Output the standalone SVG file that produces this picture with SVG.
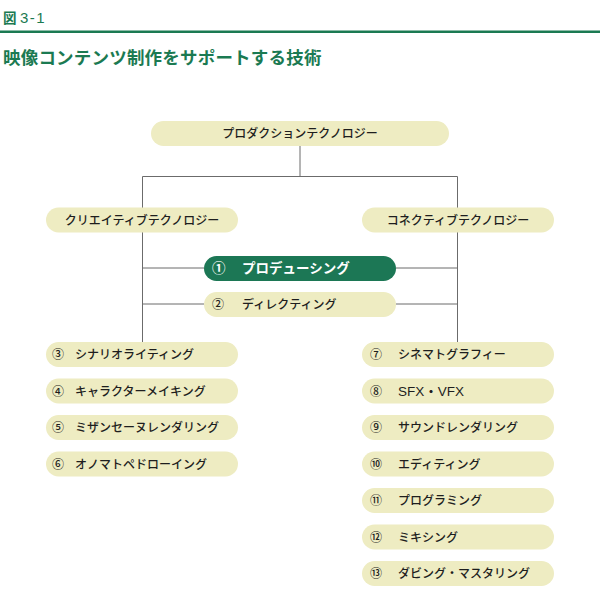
<svg xmlns="http://www.w3.org/2000/svg" width="600" height="598" viewBox="0 0 600 598">
<style>
text{font-family:"Noto Sans CJK JP","Noto Sans",sans-serif;fill:#1e1e1e;font-size:12px;font-weight:500}
.pill{fill:#eeecc2}
.dark{fill:#1c7755}
.c{text-anchor:middle}
.hd{fill:#1b7a52;font-weight:bold}
.ln{stroke:#6b6b6b;stroke-width:1;fill:none}
.w{fill:#fff;font-weight:bold;font-size:13.5px}
.lat{font-family:"Liberation Sans","Noto Sans CJK JP",sans-serif}
</style>
<rect width="600" height="598" fill="#fff"/>
<g id="header">
<text class="hd" x="3" y="22.5" style="font-size:13.5px">図<tspan class="lat" x="20" style="font-size:15px;letter-spacing:1.5px;font-weight:500">3-1</tspan></text>
<rect x="0" y="30.5" width="600" height="2.5" fill="#1b7a52"/>
<text class="hd" x="3" y="64" style="font-size:17.5px;letter-spacing:0.2px">映像コンテンツ制作をサポートする技術</text>
</g>
<g id="connectors">
<path class="ln" d="M300 146V176.5M142.5 176.5H457.5M142.5 176.5V342M457.5 176.5V342M142.5 268H204M396 268H457.5M142.5 304H204M396 304H457.5"/>
</g>
<g id="n-production"><rect class="pill" x="151" y="121" width="298" height="25" rx="12.5"/><text class="c" x="300" y="138">プロダクションテクノロジー</text></g>
<g id="n-creative"><rect class="pill" x="46" y="207.5" width="192" height="25" rx="12.5"/><text class="c" x="142" y="224.5">クリエイティブテクノロジー</text></g>
<g id="n-connective"><rect class="pill" x="362" y="207.5" width="192" height="25" rx="12.5"/><text class="c" x="458" y="224.5">コネクティブテクノロジー</text></g>
<g id="n1"><rect class="dark" x="204" y="256" width="192" height="25" rx="12.5"/><text class="w" x="212" y="273">①</text><text class="w" x="242" y="273">プロデューシング</text></g>
<g id="n2"><rect class="pill" x="204" y="292" width="192" height="25" rx="12.5"/><text x="212" y="309">②</text><text x="242" y="309">ディレクティング</text></g>
<g id="n3"><rect class="pill" x="46" y="342" width="192" height="25" rx="12.5"/><text x="52" y="359">③</text><text x="75" y="359">シナリオライティング</text></g>
<g id="n4"><rect class="pill" x="46" y="378.5" width="192" height="25" rx="12.5"/><text x="52" y="395.5">④</text><text x="75" y="395.5">キャラクターメイキング</text></g>
<g id="n5"><rect class="pill" x="46" y="415" width="192" height="25" rx="12.5"/><text x="52" y="432">⑤</text><text x="75" y="432">ミザンセーヌレンダリング</text></g>
<g id="n6"><rect class="pill" x="46" y="451.5" width="192" height="25" rx="12.5"/><text x="52" y="468.5">⑥</text><text x="75" y="468.5">オノマトペドローイング</text></g>
<g id="n7"><rect class="pill" x="362" y="342" width="192" height="25" rx="12.5"/><text x="370" y="359">⑦</text><text x="398" y="359">シネマトグラフィー</text></g>
<g id="n8"><rect class="pill" x="362" y="378.5" width="192" height="25" rx="12.5"/><text x="370" y="395.5">⑧</text><text class="lat" x="398" y="396" style="font-size:13.5px">SFX・VFX</text></g>
<g id="n9"><rect class="pill" x="362" y="415" width="192" height="25" rx="12.5"/><text x="370" y="432">⑨</text><text x="398" y="432">サウンドレンダリング</text></g>
<g id="n10"><rect class="pill" x="362" y="451.5" width="192" height="25" rx="12.5"/><text x="370" y="468.5">⑩</text><text x="398" y="468.5">エディティング</text></g>
<g id="n11"><rect class="pill" x="362" y="488" width="192" height="25" rx="12.5"/><text x="370" y="505">⑪</text><text x="398" y="505">プログラミング</text></g>
<g id="n12"><rect class="pill" x="362" y="524.5" width="192" height="25" rx="12.5"/><text x="370" y="541.5">⑫</text><text x="398" y="541.5">ミキシング</text></g>
<g id="n13"><rect class="pill" x="362" y="561" width="192" height="25" rx="12.5"/><text x="370" y="578">⑬</text><text x="398" y="578">ダビング・マスタリング</text></g>
</svg>
